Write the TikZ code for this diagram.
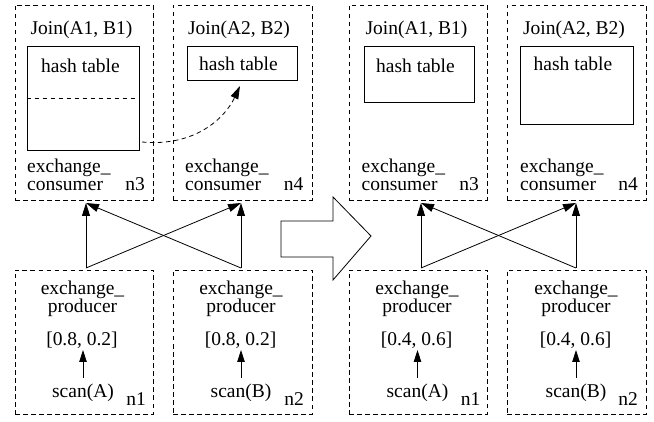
\documentclass[tikz,border=0pt]{standalone}
\usepackage{fontspec}
\setmainfont{Liberation Serif}
\newfontfamily\figfont{Liberation Serif}
\usetikzlibrary{arrows.meta}
\begin{document}
\begin{tikzpicture}[x=1pt,y=-1pt,
  dbox/.style={draw, dash pattern=on 4.5pt off 3.5pt, line width=0.8pt, inner sep=0pt},
  hbox/.style={draw, line width=0.8pt, inner sep=0pt},
  lbl/.style={anchor=base, inner sep=0pt, font=\figfont\fontsize{19.5}{19.5}\selectfont},
  lbll/.style={lbl, anchor=base west},
  lblr/.style={lbl, anchor=base east},
  arr/.style={line width=0.8pt, -{Triangle[length=13pt,width=8pt]}},
  sarr/.style={line width=0.8pt, -{Triangle[length=12pt,width=7.5pt]}},
  darr/.style={line width=0.8pt, dash pattern=on 4.5pt off 3.5pt, -{Triangle[length=13pt,width=8pt]}},
]
\useasboundingbox (0,0) rectangle (654,422);

% ---------- top boxes ----------
\node[dbox, minimum width=138pt, minimum height=195pt] (tn3) at (84,102.5) {};
\node[dbox, minimum width=139pt, minimum height=195pt] (tn4) at (242.5,102.5) {};
\node[dbox, minimum width=138pt, minimum height=195pt] (rn3) at (418,102.5) {};
\node[dbox, minimum width=139pt, minimum height=195pt] (rn4) at (576.5,102.5) {};

% ---------- bottom boxes ----------
\node[dbox, minimum width=138pt, minimum height=144pt] (bn1) at (84,342) {};
\node[dbox, minimum width=139pt, minimum height=144pt] (bn2) at (242.5,342) {};
\node[dbox, minimum width=138pt, minimum height=144pt] (rbn1) at (418,342) {};
\node[dbox, minimum width=139pt, minimum height=144pt] (rbn2) at (576.5,342) {};

% ---------- hash tables ----------
\node[hbox, minimum width=112pt, minimum height=104pt] (ht3) at (83,98) {};
\draw[dash pattern=on 4.5pt off 3.5pt, line width=0.8pt] (ht3.west) -- (ht3.east);
\node[hbox, minimum width=110pt, minimum height=34pt] (ht4) at (242,63) {};
\node[hbox, minimum width=110pt, minimum height=56pt] (rht3) at (419,74) {};
\node[hbox, minimum width=113pt, minimum height=78pt] (rht4) at (576.5,85) {};

% ---------- texts, left half ----------
\node[lbl] (j1) at (81.5,35) {Join(A1, B1)};
\node[lbl] (j2) at (239,35) {Join(A2, B2)};
\node[lbl] (h1) at (80.5,73) {hash table};
\node[lbl] (h2) at (238.5,70.5) {hash table};
\node[lbll] (e3) at (27,172.5) {exchange\_};
\node[lbll] (c3) at (27,191) {consumer};
\node[lblr] (l3) at (145,191) {n3};
\node[lbll] (e4) at (185,172.5) {exchange\_};
\node[lbll] (c4) at (185,191) {consumer};
\node[lblr] (l4) at (303.5,191) {n4};

\node[lbl] (pe1) at (82.5,295) {exchange\_};
\node[lbl] (pp1) at (82.5,313) {producer};
\node[lbl] (v1) at (82,345) {[0.8, 0.2]};
\node[lbl] (s1) at (83,397) {scan(A)};
\node[lblr] (l1) at (146,406) {n1};
\node[lbl] (pe2) at (241,295) {exchange\_};
\node[lbl] (pp2) at (241,313) {producer};
\node[lbl] (v2) at (240.5,345) {[0.8, 0.2]};
\node[lbl] (s2) at (241,397) {scan(B)};
\node[lblr] (l2) at (304,406) {n2};

% ---------- texts, right half ----------
\node[lbl] (rj1) at (416.5,35) {Join(A1, B1)};
\node[lbl] (rj2) at (574,35) {Join(A2, B2)};
\node[lbl] (rh1) at (415.5,73) {hash table};
\node[lbl] (rh2) at (573,70.5) {hash table};
\node[lbll] (re3) at (361.5,172.5) {exchange\_};
\node[lbll] (rc3) at (361.5,191) {consumer};
\node[lblr] (rl3) at (479,191) {n3};
\node[lbll] (re4) at (520,172.5) {exchange\_};
\node[lbll] (rc4) at (520,191) {consumer};
\node[lblr] (rl4) at (638,191) {n4};

\node[lbl] (rpe1) at (417,295) {exchange\_};
\node[lbl] (rpp1) at (417,313) {producer};
\node[lbl] (rv1) at (416.5,345) {[0.4, 0.6]};
\node[lbl] (rs1) at (417.5,397) {scan(A)};
\node[lblr] (rl1) at (480.5,406) {n1};
\node[lbl] (rpe2) at (576,295) {exchange\_};
\node[lbl] (rpp2) at (576,313) {producer};
\node[lbl] (rv2) at (575.5,345) {[0.4, 0.6]};
\node[lbl] (rs2) at (576,397) {scan(B)};
\node[lblr] (rl2) at (638,406) {n2};

% ---------- connectors ----------
\coordinate (p1) at (86,268);   \coordinate (q3) at (86,203);
\coordinate (p2) at (241,268);  \coordinate (q4) at (241,203);
\coordinate (rp1) at (421,268); \coordinate (rq3) at (421,203);
\coordinate (rp2) at (576,268); \coordinate (rq4) at (576,203);

\draw[arr] (p1) -- (q3);
\draw[arr] (p2) -- (q4);
\draw[arr] (p1) -- (q4);
\draw[arr] (p2) -- (q3);
\draw[arr] (rp1) -- (rq3);
\draw[arr] (rp2) -- (rq4);
\draw[arr] (rp1) -- (rq4);
\draw[arr] (rp2) -- (rq3);

% scan arrows
\draw[sarr] (s1.north |- 0,378) -- (s1.north |- 0,350);
\draw[sarr] (s2.north |- 0,378) -- (s2.north |- 0,350);
\draw[sarr] (rs1.north |- 0,378) -- (rs1.north |- 0,350);
\draw[sarr] (rs2.north |- 0,378) -- (rs2.north |- 0,350);

% dashed migration curve
\coordinate (cs) at (142,142);
\coordinate (ce) at (240,86);
\draw[darr] (cs) .. controls (195,147) and (225,118) .. (ce);

% big transition arrow
\draw[line width=0.8pt] (281,221) -- (333,221) -- (333,197) -- (371,236)
  -- (333,280) -- (333,257) -- (281,257) -- cycle;
\end{tikzpicture}
\end{document}
